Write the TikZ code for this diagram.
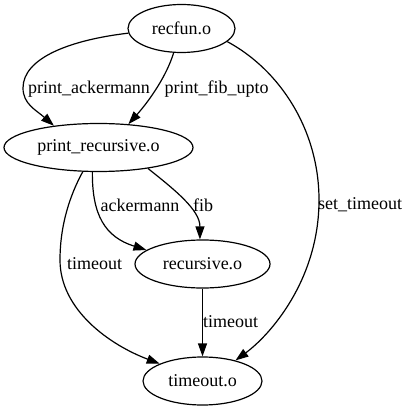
\documentclass[tikz,border=0pt]{standalone}
\usepackage{fontspec}
\setmainfont{Liberation Serif}
\usetikzlibrary{shapes.geometric,arrows.meta}
\begin{document}
\begin{tikzpicture}[x=1pt,y=-1pt,
  obj/.style={draw, ellipse, line width=1.2pt, inner sep=0pt, minimum height=48pt, font=\fontsize{18}{22}\selectfont},
  dep/.style={line width=1.2pt, -{Triangle[length=13pt,width=9pt]}},
  lab/.style={inner sep=0pt, font=\fontsize{18}{22}\selectfont}]
\useasboundingbox (0,0) rectangle (409,411);
\node[obj, minimum width=107pt] (rf) at (181.5,28.5) {recfun.o};
\node[obj, minimum width=189pt] (pr) at (98.5,147.5) {print\_recursive.o};
\node[obj, minimum width=135pt] (rec) at (202.5,264) {recursive.o};
\node[obj, minimum width=119pt] (to) at (202.5,381) {timeout.o};

\draw[dep] (rf.185) .. controls (70,40) and (23,58) .. (23,88) .. controls (23,104) and (36,110) .. (pr.154);
\draw[dep] (rf.252) .. controls (167,75) and (150,100) .. (pr.38);
\draw[dep] (rf.344) .. controls (280,70) and (319,130) .. (319,200) .. controls (319,280) and (270,335) .. (to.32);
\draw[dep] (pr.256) .. controls (92,215) and (105,237) .. (rec.166);
\draw[dep] (pr.337) .. controls (175,190) and (200,210) .. (rec.96);
\draw[dep] (pr.237) .. controls (70,195) and (60,225) .. (60,260) .. controls (60,310) and (110,345) .. (to.158);
\draw[dep] (rec) -- (to);

\node[lab] (l1) at (89,89) {print\_ackermann};
\node[lab] (l2) at (216.5,89) {print\_fib\_upto};
\node[lab] (l3) at (360,205) {set\_timeout};
\node[lab] (l4) at (140,205) {ackermann};
\node[lab] (l5) at (203,205) {fib};
\node[lab] (l6) at (94.5,264) {timeout};
\node[lab] (l7) at (230.5,322) {timeout};
\end{tikzpicture}
\end{document}
